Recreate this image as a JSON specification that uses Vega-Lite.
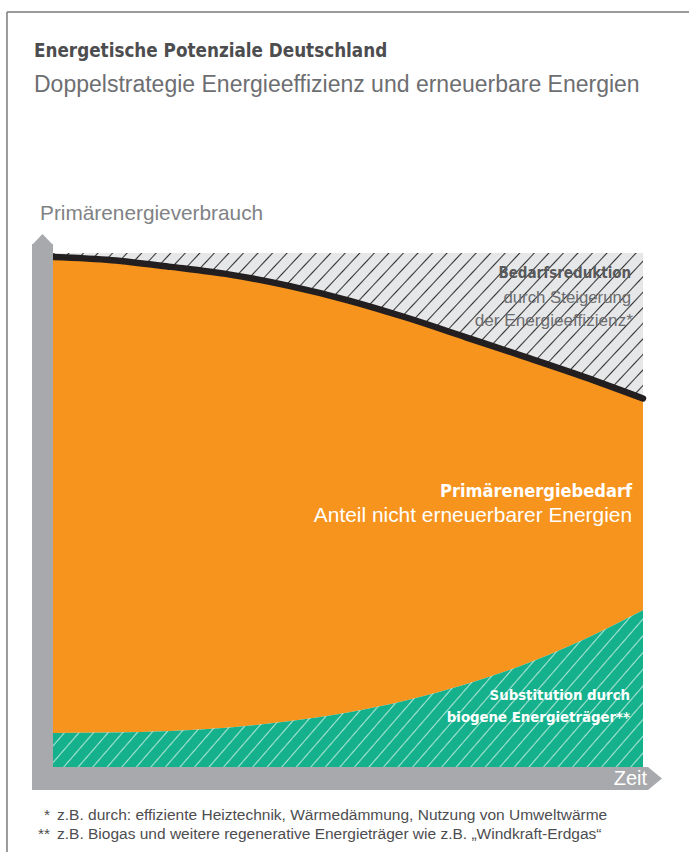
{
"$schema":"https://vega.github.io/schema/vega-lite/v6.json",
"autosize":{"type":"none"},
"width":590,"height":514,
"padding":{"left":53,"top":253,"right":46,"bottom":85},
"background":"#ffffff",
"config":{"view":{"stroke":null},"axis":{"disable":true}},
"data":{"values":[
{"t":0,"top":99.2,"sub":6.6},
{"t":10,"top":98.6,"sub":6.7},
{"t":20,"top":97.3,"sub":7.0},
{"t":30,"top":95.8,"sub":7.7},
{"t":40,"top":93.6,"sub":8.9},
{"t":50,"top":90.8,"sub":10.6},
{"t":60,"top":87.4,"sub":13.0},
{"t":70,"top":83.6,"sub":16.1},
{"t":80,"top":79.8,"sub":20.0},
{"t":90,"top":75.9,"sub":24.8},
{"t":100,"top":71.7,"sub":30.5}
]},
"layer":[
{"mark":{"type":"area","orient":"vertical","interpolate":"monotone","fill":{"gradient":"linear","x1":0,"y1":0,"x2":1.17,"y2":0.27,"stops":[
{"offset":0,"color":"#e6e7e8"},{"offset":0.002,"color":"#333"},{"offset":0.004,"color":"#e6e7e8"},
{"offset":0.02,"color":"#e6e7e8"},{"offset":0.022,"color":"#333"},{"offset":0.024,"color":"#e6e7e8"},
{"offset":0.04,"color":"#e6e7e8"},{"offset":0.042,"color":"#333"},{"offset":0.044,"color":"#e6e7e8"},
{"offset":0.06,"color":"#e6e7e8"},{"offset":0.062,"color":"#333"},{"offset":0.064,"color":"#e6e7e8"},
{"offset":0.08,"color":"#e6e7e8"},{"offset":0.082,"color":"#333"},{"offset":0.084,"color":"#e6e7e8"},
{"offset":0.1,"color":"#e6e7e8"},{"offset":0.102,"color":"#333"},{"offset":0.104,"color":"#e6e7e8"},
{"offset":0.12,"color":"#e6e7e8"},{"offset":0.122,"color":"#333"},{"offset":0.124,"color":"#e6e7e8"},
{"offset":0.14,"color":"#e6e7e8"},{"offset":0.142,"color":"#333"},{"offset":0.144,"color":"#e6e7e8"},
{"offset":0.16,"color":"#e6e7e8"},{"offset":0.162,"color":"#333"},{"offset":0.164,"color":"#e6e7e8"},
{"offset":0.18,"color":"#e6e7e8"},{"offset":0.182,"color":"#333"},{"offset":0.184,"color":"#e6e7e8"},
{"offset":0.2,"color":"#e6e7e8"},{"offset":0.202,"color":"#333"},{"offset":0.204,"color":"#e6e7e8"},
{"offset":0.22,"color":"#e6e7e8"},{"offset":0.222,"color":"#333"},{"offset":0.224,"color":"#e6e7e8"},
{"offset":0.24,"color":"#e6e7e8"},{"offset":0.242,"color":"#333"},{"offset":0.244,"color":"#e6e7e8"},
{"offset":0.26,"color":"#e6e7e8"},{"offset":0.262,"color":"#333"},{"offset":0.264,"color":"#e6e7e8"},
{"offset":0.28,"color":"#e6e7e8"},{"offset":0.282,"color":"#333"},{"offset":0.284,"color":"#e6e7e8"},
{"offset":0.3,"color":"#e6e7e8"},{"offset":0.302,"color":"#333"},{"offset":0.304,"color":"#e6e7e8"},
{"offset":0.32,"color":"#e6e7e8"},{"offset":0.322,"color":"#333"},{"offset":0.324,"color":"#e6e7e8"},
{"offset":0.34,"color":"#e6e7e8"},{"offset":0.342,"color":"#333"},{"offset":0.344,"color":"#e6e7e8"},
{"offset":0.36,"color":"#e6e7e8"},{"offset":0.362,"color":"#333"},{"offset":0.364,"color":"#e6e7e8"},
{"offset":0.38,"color":"#e6e7e8"},{"offset":0.382,"color":"#333"},{"offset":0.384,"color":"#e6e7e8"},
{"offset":0.4,"color":"#e6e7e8"},{"offset":0.402,"color":"#333"},{"offset":0.404,"color":"#e6e7e8"},
{"offset":0.42,"color":"#e6e7e8"},{"offset":0.422,"color":"#333"},{"offset":0.424,"color":"#e6e7e8"},
{"offset":0.44,"color":"#e6e7e8"},{"offset":0.442,"color":"#333"},{"offset":0.444,"color":"#e6e7e8"},
{"offset":0.46,"color":"#e6e7e8"},{"offset":0.462,"color":"#333"},{"offset":0.464,"color":"#e6e7e8"},
{"offset":0.48,"color":"#e6e7e8"},{"offset":0.482,"color":"#333"},{"offset":0.484,"color":"#e6e7e8"},
{"offset":0.5,"color":"#e6e7e8"},{"offset":0.502,"color":"#333"},{"offset":0.504,"color":"#e6e7e8"},
{"offset":0.52,"color":"#e6e7e8"},{"offset":0.522,"color":"#333"},{"offset":0.524,"color":"#e6e7e8"},
{"offset":0.54,"color":"#e6e7e8"},{"offset":0.542,"color":"#333"},{"offset":0.544,"color":"#e6e7e8"},
{"offset":0.56,"color":"#e6e7e8"},{"offset":0.562,"color":"#333"},{"offset":0.564,"color":"#e6e7e8"},
{"offset":0.58,"color":"#e6e7e8"},{"offset":0.582,"color":"#333"},{"offset":0.584,"color":"#e6e7e8"},
{"offset":0.6,"color":"#e6e7e8"},{"offset":0.602,"color":"#333"},{"offset":0.604,"color":"#e6e7e8"},
{"offset":0.62,"color":"#e6e7e8"},{"offset":0.622,"color":"#333"},{"offset":0.624,"color":"#e6e7e8"},
{"offset":0.64,"color":"#e6e7e8"},{"offset":0.642,"color":"#333"},{"offset":0.644,"color":"#e6e7e8"},
{"offset":0.66,"color":"#e6e7e8"},{"offset":0.662,"color":"#333"},{"offset":0.664,"color":"#e6e7e8"},
{"offset":0.68,"color":"#e6e7e8"},{"offset":0.682,"color":"#333"},{"offset":0.684,"color":"#e6e7e8"},
{"offset":0.7,"color":"#e6e7e8"},{"offset":0.702,"color":"#333"},{"offset":0.704,"color":"#e6e7e8"},
{"offset":0.72,"color":"#e6e7e8"},{"offset":0.722,"color":"#333"},{"offset":0.724,"color":"#e6e7e8"},
{"offset":0.74,"color":"#e6e7e8"},{"offset":0.742,"color":"#333"},{"offset":0.744,"color":"#e6e7e8"},
{"offset":0.76,"color":"#e6e7e8"},{"offset":0.762,"color":"#333"},{"offset":0.764,"color":"#e6e7e8"},
{"offset":0.78,"color":"#e6e7e8"},{"offset":0.782,"color":"#333"},{"offset":0.784,"color":"#e6e7e8"},
{"offset":0.8,"color":"#e6e7e8"},{"offset":0.802,"color":"#333"},{"offset":0.804,"color":"#e6e7e8"},
{"offset":0.82,"color":"#e6e7e8"},{"offset":0.822,"color":"#333"},{"offset":0.824,"color":"#e6e7e8"},
{"offset":0.84,"color":"#e6e7e8"},{"offset":0.842,"color":"#333"},{"offset":0.844,"color":"#e6e7e8"},
{"offset":0.86,"color":"#e6e7e8"},{"offset":0.862,"color":"#333"},{"offset":0.864,"color":"#e6e7e8"},
{"offset":0.88,"color":"#e6e7e8"},{"offset":0.882,"color":"#333"},{"offset":0.884,"color":"#e6e7e8"},
{"offset":0.9,"color":"#e6e7e8"},{"offset":0.902,"color":"#333"},{"offset":0.904,"color":"#e6e7e8"},
{"offset":0.92,"color":"#e6e7e8"},{"offset":0.922,"color":"#333"},{"offset":0.924,"color":"#e6e7e8"},
{"offset":0.94,"color":"#e6e7e8"},{"offset":0.942,"color":"#333"},{"offset":0.944,"color":"#e6e7e8"},
{"offset":0.96,"color":"#e6e7e8"},{"offset":0.962,"color":"#333"},{"offset":0.964,"color":"#e6e7e8"},
{"offset":0.98,"color":"#e6e7e8"},{"offset":0.982,"color":"#333"},{"offset":0.984,"color":"#e6e7e8"},
{"offset":1,"color":"#e6e7e8"}]}},
 "encoding":{
  "x":{"field":"t","type":"quantitative","scale":{"domain":[0,100],"nice":false,"zero":false}},
  "y":{"field":"top","type":"quantitative","scale":{"domain":[0,100],"nice":false,"zero":false}},
  "y2":{"datum":100}}},
{"mark":{"type":"area","orient":"vertical","interpolate":"monotone","color":"#f7941d"},
 "encoding":{"x":{"field":"t","type":"quantitative"},"y":{"field":"sub","type":"quantitative"},"y2":{"field":"top"}}},
{"mark":{"type":"area","orient":"vertical","interpolate":"monotone","fill":{"gradient":"linear","x1":0,"y1":0,"x2":1.17,"y2":0.27,"stops":[
{"offset":0,"color":"#14b18c"},{"offset":0.002,"color":"#a8e3d3"},{"offset":0.004,"color":"#14b18c"},
{"offset":0.02,"color":"#14b18c"},{"offset":0.022,"color":"#a8e3d3"},{"offset":0.024,"color":"#14b18c"},
{"offset":0.04,"color":"#14b18c"},{"offset":0.042,"color":"#a8e3d3"},{"offset":0.044,"color":"#14b18c"},
{"offset":0.06,"color":"#14b18c"},{"offset":0.062,"color":"#a8e3d3"},{"offset":0.064,"color":"#14b18c"},
{"offset":0.08,"color":"#14b18c"},{"offset":0.082,"color":"#a8e3d3"},{"offset":0.084,"color":"#14b18c"},
{"offset":0.1,"color":"#14b18c"},{"offset":0.102,"color":"#a8e3d3"},{"offset":0.104,"color":"#14b18c"},
{"offset":0.12,"color":"#14b18c"},{"offset":0.122,"color":"#a8e3d3"},{"offset":0.124,"color":"#14b18c"},
{"offset":0.14,"color":"#14b18c"},{"offset":0.142,"color":"#a8e3d3"},{"offset":0.144,"color":"#14b18c"},
{"offset":0.16,"color":"#14b18c"},{"offset":0.162,"color":"#a8e3d3"},{"offset":0.164,"color":"#14b18c"},
{"offset":0.18,"color":"#14b18c"},{"offset":0.182,"color":"#a8e3d3"},{"offset":0.184,"color":"#14b18c"},
{"offset":0.2,"color":"#14b18c"},{"offset":0.202,"color":"#a8e3d3"},{"offset":0.204,"color":"#14b18c"},
{"offset":0.22,"color":"#14b18c"},{"offset":0.222,"color":"#a8e3d3"},{"offset":0.224,"color":"#14b18c"},
{"offset":0.24,"color":"#14b18c"},{"offset":0.242,"color":"#a8e3d3"},{"offset":0.244,"color":"#14b18c"},
{"offset":0.26,"color":"#14b18c"},{"offset":0.262,"color":"#a8e3d3"},{"offset":0.264,"color":"#14b18c"},
{"offset":0.28,"color":"#14b18c"},{"offset":0.282,"color":"#a8e3d3"},{"offset":0.284,"color":"#14b18c"},
{"offset":0.3,"color":"#14b18c"},{"offset":0.302,"color":"#a8e3d3"},{"offset":0.304,"color":"#14b18c"},
{"offset":0.32,"color":"#14b18c"},{"offset":0.322,"color":"#a8e3d3"},{"offset":0.324,"color":"#14b18c"},
{"offset":0.34,"color":"#14b18c"},{"offset":0.342,"color":"#a8e3d3"},{"offset":0.344,"color":"#14b18c"},
{"offset":0.36,"color":"#14b18c"},{"offset":0.362,"color":"#a8e3d3"},{"offset":0.364,"color":"#14b18c"},
{"offset":0.38,"color":"#14b18c"},{"offset":0.382,"color":"#a8e3d3"},{"offset":0.384,"color":"#14b18c"},
{"offset":0.4,"color":"#14b18c"},{"offset":0.402,"color":"#a8e3d3"},{"offset":0.404,"color":"#14b18c"},
{"offset":0.42,"color":"#14b18c"},{"offset":0.422,"color":"#a8e3d3"},{"offset":0.424,"color":"#14b18c"},
{"offset":0.44,"color":"#14b18c"},{"offset":0.442,"color":"#a8e3d3"},{"offset":0.444,"color":"#14b18c"},
{"offset":0.46,"color":"#14b18c"},{"offset":0.462,"color":"#a8e3d3"},{"offset":0.464,"color":"#14b18c"},
{"offset":0.48,"color":"#14b18c"},{"offset":0.482,"color":"#a8e3d3"},{"offset":0.484,"color":"#14b18c"},
{"offset":0.5,"color":"#14b18c"},{"offset":0.502,"color":"#a8e3d3"},{"offset":0.504,"color":"#14b18c"},
{"offset":0.52,"color":"#14b18c"},{"offset":0.522,"color":"#a8e3d3"},{"offset":0.524,"color":"#14b18c"},
{"offset":0.54,"color":"#14b18c"},{"offset":0.542,"color":"#a8e3d3"},{"offset":0.544,"color":"#14b18c"},
{"offset":0.56,"color":"#14b18c"},{"offset":0.562,"color":"#a8e3d3"},{"offset":0.564,"color":"#14b18c"},
{"offset":0.58,"color":"#14b18c"},{"offset":0.582,"color":"#a8e3d3"},{"offset":0.584,"color":"#14b18c"},
{"offset":0.6,"color":"#14b18c"},{"offset":0.602,"color":"#a8e3d3"},{"offset":0.604,"color":"#14b18c"},
{"offset":0.62,"color":"#14b18c"},{"offset":0.622,"color":"#a8e3d3"},{"offset":0.624,"color":"#14b18c"},
{"offset":0.64,"color":"#14b18c"},{"offset":0.642,"color":"#a8e3d3"},{"offset":0.644,"color":"#14b18c"},
{"offset":0.66,"color":"#14b18c"},{"offset":0.662,"color":"#a8e3d3"},{"offset":0.664,"color":"#14b18c"},
{"offset":0.68,"color":"#14b18c"},{"offset":0.682,"color":"#a8e3d3"},{"offset":0.684,"color":"#14b18c"},
{"offset":0.7,"color":"#14b18c"},{"offset":0.702,"color":"#a8e3d3"},{"offset":0.704,"color":"#14b18c"},
{"offset":0.72,"color":"#14b18c"},{"offset":0.722,"color":"#a8e3d3"},{"offset":0.724,"color":"#14b18c"},
{"offset":0.74,"color":"#14b18c"},{"offset":0.742,"color":"#a8e3d3"},{"offset":0.744,"color":"#14b18c"},
{"offset":0.76,"color":"#14b18c"},{"offset":0.762,"color":"#a8e3d3"},{"offset":0.764,"color":"#14b18c"},
{"offset":0.78,"color":"#14b18c"},{"offset":0.782,"color":"#a8e3d3"},{"offset":0.784,"color":"#14b18c"},
{"offset":0.8,"color":"#14b18c"},{"offset":0.802,"color":"#a8e3d3"},{"offset":0.804,"color":"#14b18c"},
{"offset":0.82,"color":"#14b18c"},{"offset":0.822,"color":"#a8e3d3"},{"offset":0.824,"color":"#14b18c"},
{"offset":0.84,"color":"#14b18c"},{"offset":0.842,"color":"#a8e3d3"},{"offset":0.844,"color":"#14b18c"},
{"offset":0.86,"color":"#14b18c"},{"offset":0.862,"color":"#a8e3d3"},{"offset":0.864,"color":"#14b18c"},
{"offset":0.88,"color":"#14b18c"},{"offset":0.882,"color":"#a8e3d3"},{"offset":0.884,"color":"#14b18c"},
{"offset":0.9,"color":"#14b18c"},{"offset":0.902,"color":"#a8e3d3"},{"offset":0.904,"color":"#14b18c"},
{"offset":0.92,"color":"#14b18c"},{"offset":0.922,"color":"#a8e3d3"},{"offset":0.924,"color":"#14b18c"},
{"offset":0.94,"color":"#14b18c"},{"offset":0.942,"color":"#a8e3d3"},{"offset":0.944,"color":"#14b18c"},
{"offset":0.96,"color":"#14b18c"},{"offset":0.962,"color":"#a8e3d3"},{"offset":0.964,"color":"#14b18c"},
{"offset":0.98,"color":"#14b18c"},{"offset":0.982,"color":"#a8e3d3"},{"offset":0.984,"color":"#14b18c"},
{"offset":1,"color":"#14b18c"}]}},
 "encoding":{"x":{"field":"t","type":"quantitative"},"y":{"field":"sub","type":"quantitative"},"y2":{"datum":0}}},
{"mark":{"type":"line","interpolate":"monotone","color":"#231f20","strokeWidth":6.5,"strokeCap":"round"},
 "encoding":{"x":{"field":"t","type":"quantitative"},"y":{"field":"top","type":"quantitative"}}},
{"data":{"values":[{}]},"mark":{"type":"rule","color":"#a7a9ac","strokeWidth":21},
 "encoding":{"x":{"datum":-1.78},"y":{"datum":-4.47},"y2":{"datum":101.75}}},
{"data":{"values":[{}]},"mark":{"type":"rule","color":"#a7a9ac","strokeWidth":23},
 "encoding":{"x":{"datum":-3.56},"x2":{"datum":100.85},"y":{"datum":-2.24}}},
{"data":{"values":[{}]},"mark":{"type":"point","shape":"M-1,0.524L0,-0.524L1,0.524Z","filled":true,"color":"#a7a9ac","opacity":1,"size":441,"strokeWidth":0},
 "encoding":{"x":{"datum":-1.78},"y":{"datum":102.63}}},
{"data":{"values":[{}]},"mark":{"type":"point","shape":"M-0.609,-1L0.609,0L-0.609,1Z","filled":true,"color":"#a7a9ac","opacity":1,"size":529,"strokeWidth":0},
 "encoding":{"x":{"datum":102.03},"y":{"datum":-2.24}}},
{"data":{"values":[{}]},"mark":{"type":"rule","color":"#7a7a7a","strokeWidth":1.5},
 "encoding":{"x":{"datum":-7.8},"x2":{"datum":107.8},"y":{"datum":146.9}}},
{"data":{"values":[{}]},"mark":{"type":"rule","color":"#7a7a7a","strokeWidth":1.5},
 "encoding":{"x":{"datum":-7.8},"y":{"datum":146.9},"y2":{"datum":-16.6}}},
{"data":{"values":[{}]},"mark":{"type":"text","text":"Energetische Potenziale Deutschland","align":"left","baseline":"alphabetic","font":"DejaVu Sans Condensed, Liberation Sans, sans-serif","fontWeight":"bold","fontSize":18.7,"color":"#4d4d4f"},
 "encoding":{"x":{"datum":-3.22},"y":{"datum":138.13}}},
{"data":{"values":[{}]},"mark":{"type":"text","text":"Doppelstrategie Energieeffizienz und erneuerbare Energien","align":"left","baseline":"alphabetic","font":"Liberation Sans","fontSize":23,"color":"#6d6e71"},
 "encoding":{"x":{"datum":-3.22},"y":{"datum":131.32}}},
{"data":{"values":[{}]},"mark":{"type":"text","text":"Primärenergieverbrauch","align":"left","baseline":"alphabetic","font":"Liberation Sans","fontSize":20.8,"color":"#808285"},
 "encoding":{"x":{"datum":-2.2},"y":{"datum":106.42}}},
{"data":{"values":[{}]},"mark":{"type":"text","text":"Bedarfsreduktion","align":"right","baseline":"alphabetic","font":"DejaVu Sans Condensed, Liberation Sans, sans-serif","fontWeight":"bold","fontSize":15,"color":"#58595b"},
 "encoding":{"x":{"datum":98.0},"y":{"datum":95.14}}},
{"data":{"values":[{}]},"mark":{"type":"text","text":"durch Steigerung","align":"right","baseline":"alphabetic","font":"Liberation Sans","fontSize":16.8,"color":"#6d6e71"},
 "encoding":{"x":{"datum":98.0},"y":{"datum":90.27}}},
{"data":{"values":[{}]},"mark":{"type":"text","text":"der Energieeffizienz*","align":"right","baseline":"alphabetic","font":"Liberation Sans","fontSize":17.2,"color":"#6d6e71"},
 "encoding":{"x":{"datum":98.3},"y":{"datum":85.8}}},
{"data":{"values":[{}]},"mark":{"type":"text","text":"Primärenergiebedarf","align":"right","baseline":"alphabetic","font":"DejaVu Sans Condensed, Liberation Sans, sans-serif","fontWeight":"bold","fontSize":18.1,"color":"#ffffff"},
 "encoding":{"x":{"datum":98.14},"y":{"datum":52.53}}},
{"data":{"values":[{}]},"mark":{"type":"text","text":"Anteil nicht erneuerbarer Energien","align":"right","baseline":"alphabetic","font":"Liberation Sans","fontSize":20.9,"color":"#ffffff"},
 "encoding":{"x":{"datum":98.14},"y":{"datum":47.67}}},
{"data":{"values":[{}]},"mark":{"type":"text","text":"Substitution durch","align":"right","baseline":"alphabetic","font":"DejaVu Sans Condensed, Liberation Sans, sans-serif","fontWeight":"bold","fontSize":14.8,"color":"#ffffff"},
 "encoding":{"x":{"datum":97.8},"y":{"datum":13.04}}},
{"data":{"values":[{}]},"mark":{"type":"text","text":"biogene Energieträger**","align":"right","baseline":"alphabetic","font":"DejaVu Sans Condensed, Liberation Sans, sans-serif","fontWeight":"bold","fontSize":14.8,"color":"#ffffff"},
 "encoding":{"x":{"datum":97.8},"y":{"datum":8.75}}},
{"data":{"values":[{}]},"mark":{"type":"text","text":"Zeit","align":"right","baseline":"alphabetic","font":"Liberation Sans","fontSize":20,"color":"#ffffff"},
 "encoding":{"x":{"datum":100.68},"y":{"datum":-3.5}}},
{"data":{"values":[{}]},"mark":{"type":"text","text":"*","align":"right","baseline":"alphabetic","font":"Liberation Sans","fontSize":15.5,"color":"#4d4d4f"},
 "encoding":{"x":{"datum":-0.51},"y":{"datum":-10.31}}},
{"data":{"values":[{}]},"mark":{"type":"text","text":"z.B. durch: effiziente Heiztechnik, Wärmedämmung, Nutzung von Umweltwärme","align":"left","baseline":"alphabetic","font":"Liberation Sans","fontSize":15.5,"color":"#4d4d4f"},
 "encoding":{"x":{"datum":0.68},"y":{"datum":-10.31}}},
{"data":{"values":[{}]},"mark":{"type":"text","text":"**","align":"right","baseline":"alphabetic","font":"Liberation Sans","fontSize":15.5,"color":"#4d4d4f"},
 "encoding":{"x":{"datum":-0.51},"y":{"datum":-14.01}}},
{"data":{"values":[{}]},"mark":{"type":"text","text":"z.B. Biogas und weitere regenerative Energieträger wie z.B. „Windkraft-Erdgas“","align":"left","baseline":"alphabetic","font":"Liberation Sans","fontSize":15.5,"color":"#4d4d4f"},
 "encoding":{"x":{"datum":0.68},"y":{"datum":-14.01}}}
]
}
